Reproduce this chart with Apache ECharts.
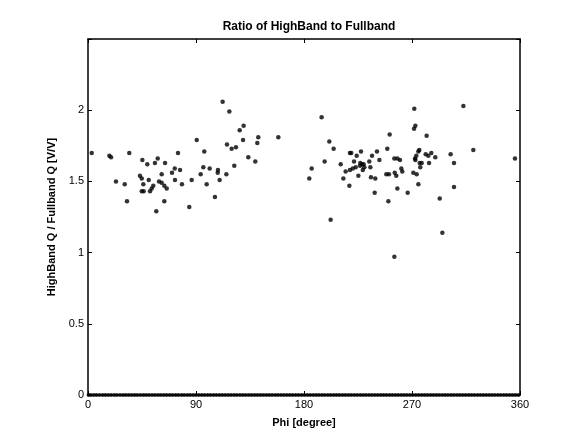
<!DOCTYPE html>
<html><head><meta charset="utf-8">
<script src="https://cdn.jsdelivr.net/npm/echarts@6/dist/echarts.min.js"></script>
<style>html,body{margin:0;padding:0;background:#fff}#c{width:571px;height:434px}</style>
</head><body><div id="c"></div>
<script>
const titleText = "Ratio of HighBand to Fullband";
const xName = "Phi [degree]";
const yName = "HighBand Q / Fullband Q [V/V]";
const xTicks = [0, 90, 180, 270, 360];
const yTicks = [0, 0.5, 1, 1.5, 2];

const phi = [3.1,17.8,19.2,34.4,90.6,96.9,45.3,49.4,55.8,58.1,64.2,75,72.3,76.7,70,61.4,23.3,30.6,43.3,44.8,46.1,50.6,54.4,53.1,59.2,61.4,63.6,65.6,72.5,78.3,86.4,96.1,44.8,46.4,51.7,32.5,63.6,56.9,84.4,
112.2,117.8,129.7,126.4,141.9,141.1,158.6,129.2,115.8,119.7,123.3,133.6,139.4,101.4,93.9,108.3,108.1,121.9,115.3,109.7,98.9,105.8,
186.4,184.4,194.7,271.9,272.8,271.7,251.4,201.1,204.7,197.2,218.3,219.4,227.5,223.9,236.7,240.8,249.4,221.7,226.9,228.3,229.7,226.7,234.4,242.8,210.6,214.7,218.3,220.6,223.1,229,230.3,235.3,225.3,212.8,217.8,235.8,239.4,248.6,250.8,255.3,257.8,260,255.6,256.9,261.9,261.1,271.1,273.9,272.5,273.6,275.3,275.3,238.9,257.8,266.4,250.3,202.2,255.3,295.3,293.1,305,312.8,282.2,276.1,272.8,281.4,283.6,286.1,289.4,276.4,278.1,276.9,284.2,302.2,305,321.1,355.8];
const ratio = [1.70,1.68,1.67,1.70,1.79,1.71,1.65,1.62,1.63,1.66,1.63,1.70,1.59,1.58,1.56,1.55,1.50,1.48,1.54,1.52,1.48,1.51,1.47,1.45,1.50,1.49,1.47,1.45,1.51,1.48,1.51,1.60,1.43,1.43,1.43,1.36,1.36,1.29,1.32,
2.06,1.99,1.89,1.86,1.81,1.77,1.81,1.79,1.76,1.73,1.74,1.67,1.64,1.59,1.55,1.58,1.56,1.61,1.55,1.51,1.48,1.39,
1.59,1.52,1.95,2.01,1.89,1.87,1.83,1.78,1.73,1.64,1.70,1.70,1.71,1.68,1.68,1.71,1.73,1.64,1.63,1.62,1.62,1.61,1.64,1.65,1.62,1.57,1.58,1.59,1.60,1.58,1.60,1.60,1.54,1.52,1.47,1.53,1.52,1.55,1.55,1.66,1.66,1.65,1.56,1.54,1.57,1.59,1.56,1.55,1.66,1.68,1.71,1.48,1.42,1.45,1.42,1.36,1.23,0.97,1.14,1.38,1.46,2.03,1.82,1.72,1.65,1.69,1.68,1.70,1.67,1.63,1.63,1.60,1.63,1.69,1.63,1.72,1.66];

const zeroPhi = [0.5,2.4,4.8,7.1,9.6,12.2,14.5,16.9,19.3,21.8,24.1,26.7,29.2,31.5,33.9,36.4,38.8,41.1,43.7,46.2,48.5,50.9,53.4,55.8,58.3,60.6,63.1,65.5,68.0,70.4,72.9,75.2,77.8,80.1,82.6,85.0,87.5,89.9,92.3,94.8,97.2,99.7,102.1,104.6,107.0,109.5,111.9,114.3,116.8,119.2,121.7,124.1,126.6,129.0,131.4,133.9,136.3,138.8,141.2,143.7,146.1,148.6,151.0,153.4,155.9,158.3,160.8,163.2,165.7,168.1,170.5,173.0,175.4,177.9,180.3,182.8,185.2,187.7,190.1,192.5,195.0,197.4,199.9,202.3,204.8,207.2,209.6,212.1,214.5,217.0,219.4,221.9,224.3,226.8,229.2,231.6,234.1,236.5,239.0,241.4,243.9,246.3,248.7,251.2,253.6,256.1,258.5,261.0,263.4,265.8,268.3,270.7,273.2,275.6,278.1,280.5,282.9,285.4,287.8,290.3,292.7,295.2,297.6,300.0,302.5,304.9,307.4,309.8,312.3,314.7,317.2,319.6,322.0,324.5,326.9,329.4,331.8,334.3,336.7,339.1,341.6,344.0,346.5,348.9,351.4,353.8,356.2,358.7];

const pts = phi.map((p, i) => [p, ratio[i]]);
const zeroPts = zeroPhi.map(p => [p, 0]);

const font = 'Liberation Sans, Arial, sans-serif';
const chart = echarts.init(document.getElementById('c'), null, {renderer: 'canvas'});
const axLine = {show: true, onZero: false, lineStyle: {color: '#000', width: 1.5}};
const tickIn = {show: true, inside: true, length: 4, lineStyle: {color: '#000', width: 1}};
chart.setOption({
  animation: false,
  backgroundColor: '#fff',
  title: {text: titleText, left: 304, top: 16, textAlign: 'center',
    textStyle: {fontFamily: font, fontSize: 12, fontWeight: 'bold', color: '#000'}},
  grid: {left: 88, right: 51, top: 39, bottom: 39, containLabel: false},
  xAxis: [
    {type: 'value', min: 0, max: 360, interval: 90, position: 'bottom',
      name: xName, nameLocation: 'middle', nameGap: 22,
      nameTextStyle: {fontFamily: font, fontSize: 11, fontWeight: 'bold', color: '#000'},
      axisLine: axLine, axisTick: tickIn, splitLine: {show: false},
      axisLabel: {color: '#000', fontFamily: font, fontSize: 11, margin: 4,
        formatter: v => xTicks.includes(v) ? String(v) : ''}},
    {type: 'value', min: 0, max: 360, interval: 90, position: 'top',
      axisLine: axLine, axisTick: tickIn, splitLine: {show: false}, axisLabel: {show: false}}
  ],
  yAxis: [
    {type: 'value', min: 0, max: 2.5, interval: 0.5, position: 'left',
      name: yName, nameLocation: 'middle', nameGap: 24,
      nameTextStyle: {fontFamily: font, fontSize: 11, fontWeight: 'bold', color: '#000'},
      axisLine: axLine, axisTick: tickIn, splitLine: {show: false},
      axisLabel: {color: '#000', fontFamily: font, fontSize: 11, margin: 4,
        formatter: v => yTicks.includes(v) ? String(v) : ''}},
    {type: 'value', min: 0, max: 2.5, interval: 0.5, position: 'right',
      axisLine: axLine, axisTick: tickIn, splitLine: {show: false}, axisLabel: {show: false}}
  ],
  series: [
    {type: 'scatter', data: pts, symbol: 'circle', symbolSize: 4.5,
      itemStyle: {color: '#000'}, clip: false},
    {type: 'scatter', data: zeroPts, symbol: 'circle', symbolSize: 4,
      itemStyle: {color: '#000'}, clip: false}
  ]
});
</script></body></html>
